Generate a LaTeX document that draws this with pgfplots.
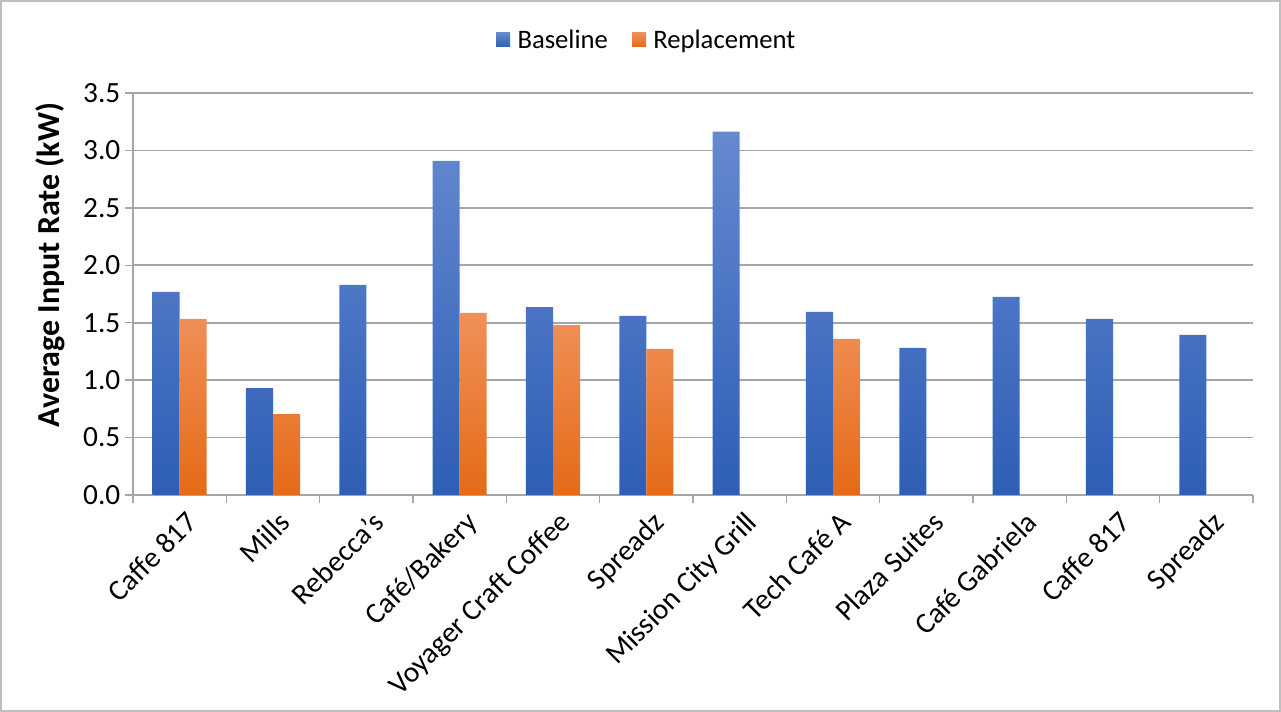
\documentclass[border=0pt]{standalone}
\usepackage{pgfplots}
\pgfplotsset{compat=1.18}
\usepackage{fontspec}
\setmainfont{Carlito}
\definecolor{bluetop}{HTML}{6589CF}
\definecolor{bluemid}{HTML}{4472C4}
\definecolor{bluebot}{HTML}{2E5EB6}
\definecolor{orgtop}{HTML}{F09058}
\definecolor{orgmid}{HTML}{F47D2A}
\definecolor{orgbot}{HTML}{E46B17}
\definecolor{gridgray}{HTML}{A6A6A6}
\definecolor{framegray}{HTML}{BFBFBF}
\begin{document}
\begin{tikzpicture}[x=0.75pt,y=0.75pt]
\useasboundingbox (-133,-217) rectangle (1148,495);
\draw[framegray, line width=1.2pt] (-132.2,-216.2) rectangle (1147.2,494.2);
\begin{axis}[
  scale only axis,
  width=840pt, height=301.5pt,
  xmin=-0.5, xmax=11.5,
  ymin=0, ymax=3.5,
  ytick={0,0.5,...,3.5},
  yticklabel style={/pgf/number format/fixed, /pgf/number format/fixed zerofill, /pgf/number format/precision=1},
  /pgf/number format/assume math mode=true,
  xtick={0,...,11},
  xticklabels={Caffe 817,Mills,Rebecca's,Café/Bakery,Voyager Craft Coffee,Spreadz,Mission City Grill,Tech Café A,Plaza Suites,Café Gabriela,Caffe 817,Spreadz},
  minor xtick={-0.5,0.5,...,11.5},
  major x tick style={draw=none},
  minor x tick style={gridgray, line width=1pt},
  minor tick length=6pt,
  major tick length=6pt,
  y tick style={gridgray, line width=1pt},
  tick align=outside,
  tick pos=left,
  xticklabel style={rotate=45, anchor=north east, font=\fontsize{22}{26}\selectfont, inner sep=2pt, xshift=1pt, yshift=-4pt},
  yticklabel style={font=\fontsize{22}{26}\selectfont},
  ymajorgrids,
  major grid style={gridgray, line width=1.2pt},
  axis line style={gridgray, line width=1.2pt},
  axis x line*=bottom,
  axis y line*=left,
  ylabel={\textbf{Average Input Rate (kW)}},
  every axis y label/.style={at={(axis description cs:-0.074,0.572)}, rotate=90, anchor=center, font=\fontsize{24}{28}\selectfont},
  ybar, bar width=0.29,
  legend columns=2,
  legend style={at={(axis description cs:0.459,1.132)}, anchor=center, draw=none, font=\fontsize{20}{24}\selectfont, /tikz/every even column/.append style={column sep=16pt}},
  legend image code/.code={\fill[#1] (0pt,-5.25pt) rectangle (10.5pt,5.25pt); \path (0pt,0pt) -- (14pt,0pt);},
]
\addplot[draw=none, top color=bluetop, middle color=bluemid, bottom color=bluebot, bar shift=-0.145] coordinates {
(0,1.769) (1,0.931) (2,1.830) (3,2.910) (4,1.636) (5,1.560) (6,3.164) (7,1.595) (8,1.280) (9,1.725) (10,1.533) (11,1.393)};
\addplot[draw=none, top color=orgtop, middle color=orgmid, bottom color=orgbot, bar shift=0.145] coordinates {
(0,1.533) (1,0.704) (3,1.586) (4,1.479) (5,1.272) (7,1.359)};
\legend{Baseline,Replacement}
\end{axis}
\end{tikzpicture}
\end{document}
